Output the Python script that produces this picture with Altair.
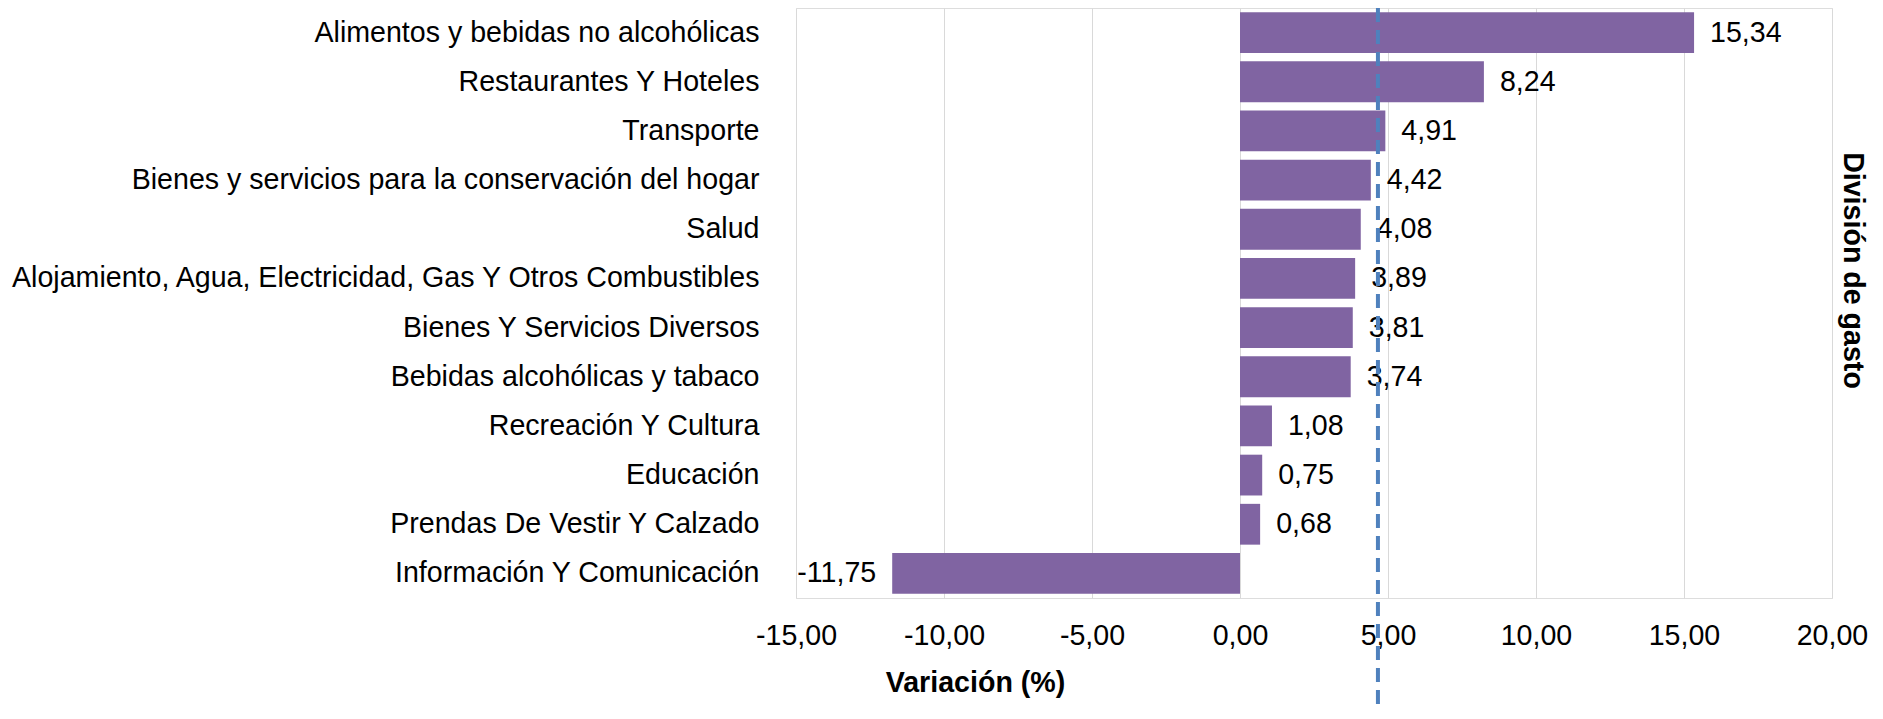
import altair as alt
import pandas as pd

categories = [
    "Alimentos y bebidas no alcohólicas",
    "Restaurantes Y Hoteles",
    "Transporte",
    "Bienes y servicios para la conservación del hogar",
    "Salud",
    "Alojamiento, Agua, Electricidad, Gas Y Otros Combustibles",
    "Bienes Y Servicios Diversos",
    "Bebidas alcohólicas y tabaco",
    "Recreación Y Cultura",
    "Educación",
    "Prendas De Vestir Y Calzado",
    "Información Y Comunicación",
]
values = [15.34, 8.24, 4.91, 4.42, 4.08, 3.89, 3.81, 3.74, 1.08, 0.75, 0.68, -11.75]
reference_value = [4.66]
x_ticks = [-15, -10, -5, 0, 5, 10, 15, 20]

FONT = "Liberation Sans"
FS = 28.6
BAR_COLOR = "#8064A2"
LINE_COLOR = "#4F81BD"

df = pd.DataFrame({"cat": categories, "val": values})
ref_df = pd.DataFrame({"ref": reference_value})

fmt = "(datum.val < 0 ? '-' : '') + replace(format(abs(datum.val), '.2f'), '.', ',')"

x_scale = alt.Scale(domain=[-15, 20], nice=False, zero=False)
y_scale = alt.Scale(paddingInner=0.17, paddingOuter=0.085)

x_axis = alt.Axis(
    values=x_ticks,
    labelExpr="(datum.value < 0 ? '-' : '') + replace(format(abs(datum.value), '.2f'), '.', ',')",
    grid=True, gridColor="#D9D9D9", gridWidth=1,
    ticks=False, domain=False, labelFlush=False, labelOverlap=False,
    labelFont=FONT, labelFontSize=FS, labelColor="#000000",
    labelBaseline="middle", labelPadding=37,
    title="Variación (%)", titleFont=FONT, titleFontSize=FS, titleFontWeight="bold",
    titleColor="#000000", titleX=179, titleY=84, titleAlign="center", titleBaseline="middle",
)
y_axis = alt.Axis(
    grid=False, ticks=False, domain=False,
    labelFont=FONT, labelFontSize=FS, labelColor="#000000", labelPadding=37,
    labelLimit=2000,
    title="División de gasto", titleFont=FONT, titleFontSize=FS, titleFontWeight="bold",
    titleColor="#000000", titleAngle=90, titleX=1056, titleY=262,
    titleAlign="center", titleBaseline="middle",
)

base = alt.Chart(df)

bars = base.mark_bar(color=BAR_COLOR).encode(
    x=alt.X("val:Q", scale=x_scale, axis=x_axis),
    y=alt.Y("cat:N", sort=categories, scale=y_scale, axis=y_axis),
)

pos_text = base.transform_filter("datum.val >= 0").transform_calculate(lbl=fmt).mark_text(
    align="left", baseline="middle", dx=16, font=FONT, fontSize=FS, color="#000000"
).encode(
    x=alt.X("val:Q", scale=x_scale),
    y=alt.Y("cat:N", sort=categories, scale=y_scale),
    text="lbl:N",
)

neg_text = base.transform_filter("datum.val < 0").transform_calculate(lbl=fmt).mark_text(
    align="right", baseline="middle", dx=-16, font=FONT, fontSize=FS, color="#000000"
).encode(
    x=alt.X("val:Q", scale=x_scale),
    y=alt.Y("cat:N", sort=categories, scale=y_scale),
    text="lbl:N",
)

rule = alt.Chart(ref_df).mark_rule(
    color=LINE_COLOR, strokeWidth=4, strokeDash=[14, 8]
).encode(
    x=alt.X("ref:Q", scale=x_scale),
    y=alt.value(0),
    y2=alt.value(701),
)

chart = alt.layer(bars, pos_text, neg_text, rule).properties(
    width=1036, height=590,
    autosize=alt.AutoSizeParams(type="none"),
    padding={"left": 788, "top": 0, "right": 43, "bottom": 111},
).configure_view(stroke=None).configure(background="white")

chart.save("out.html", embed_options={"renderer": "svg", "actions": False})
